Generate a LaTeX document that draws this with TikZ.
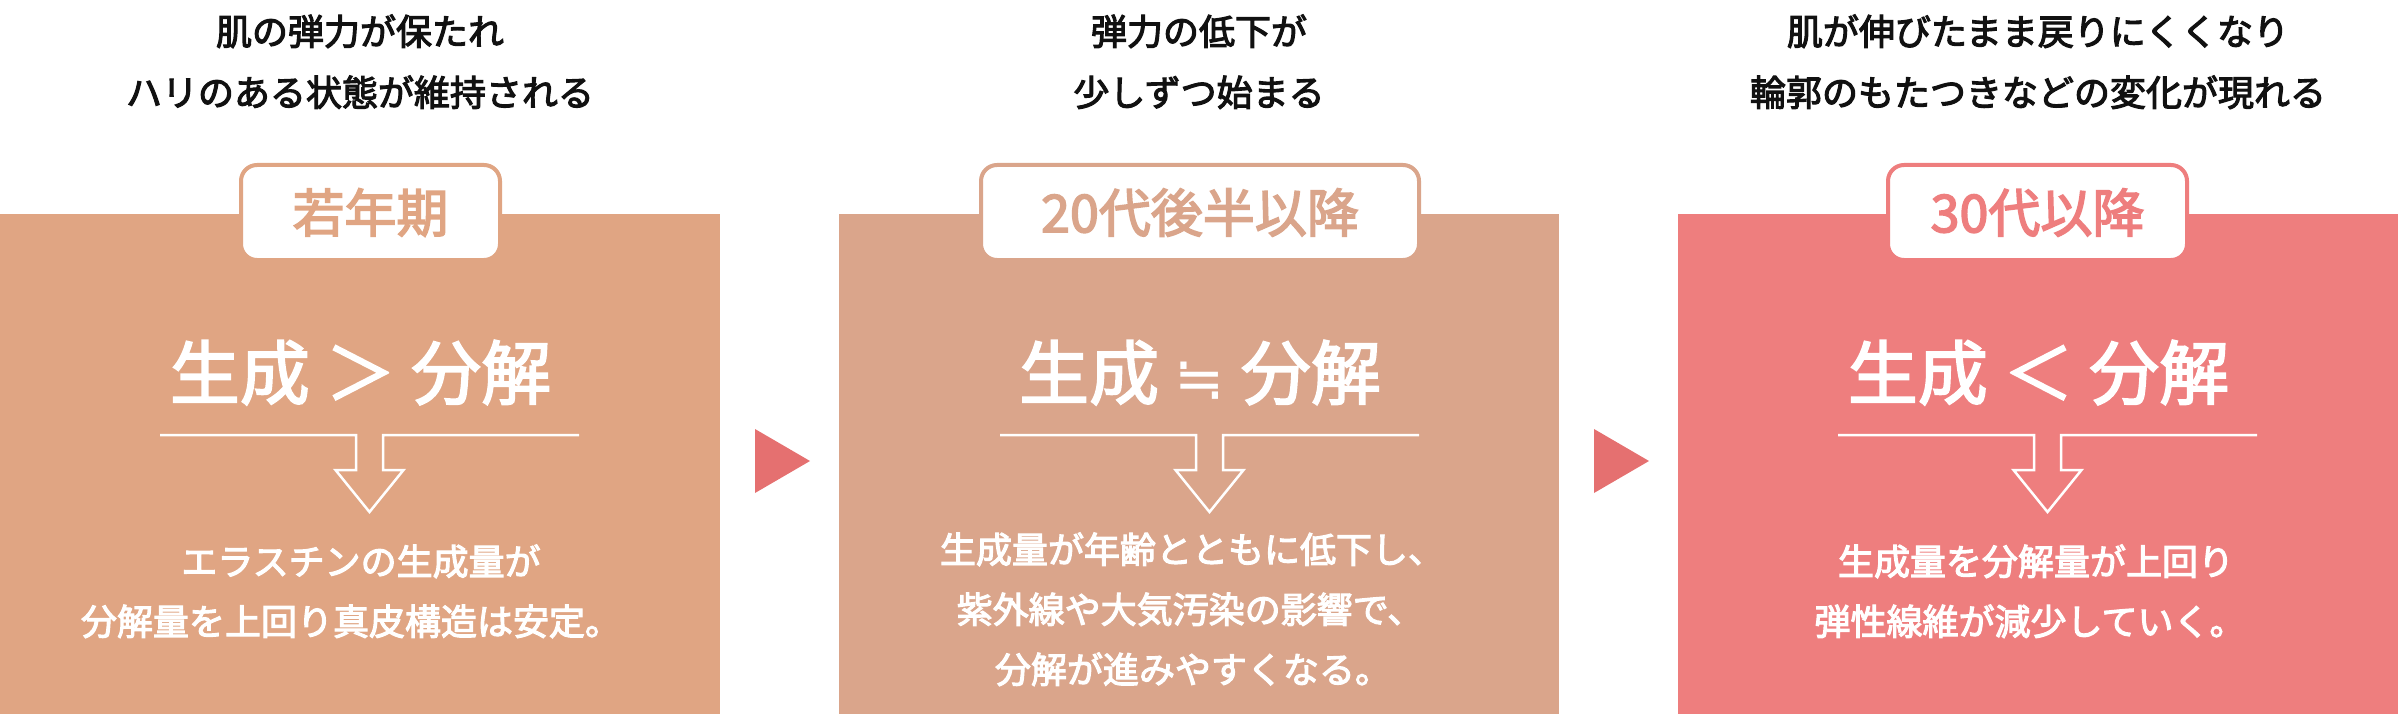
\documentclass[tikz,border=0pt]{standalone}
\usepackage{fontspec}
\setmainfont{Noto Sans CJK JP}
\newfontfamily\medfont{Noto Sans CJK JP}[RawFeature={embolden=3}]
\newfontfamily\medbigfont{Noto Sans CJK JP}[RawFeature={embolden=2.5}]
\newfontfamily\symfont{DejaVu Sans}
\definecolor{pA}{HTML}{E0A583}
\definecolor{pB}{HTML}{DAA58B}
\definecolor{pC}{HTML}{EE7E7E}
\definecolor{triC}{HTML}{E57070}
\definecolor{topC}{HTML}{111111}
\tikzset{
  toptext/.style={anchor=base, inner sep=0pt, text=topC, font=\medfont\fontsize{36}{44}\selectfont},
  bodytext/.style={anchor=base, inner sep=0pt, text=white, font=\medfont\fontsize{36}{44}\selectfont},
  bigtext/.style={anchor=base, inner sep=0pt, text=white, font=\medbigfont\fontsize{70}{80}\selectfont},
  labelbox/.style={draw=#1, text=#1, fill=white, line width=4pt, rounded corners=16pt,
     minimum height=95pt, inner sep=0pt, font=\medfont\fontsize{52}{60}\selectfont},
  splitarrow/.pic={
    \draw[white, line width=2.5pt, line join=miter]
      (-209.5,0) -- (-13.5,0) -- (-13.5,35) -- (-34,35) -- (0,77) -- (34,35)
      -- (13.5,35) -- (13.5,0) -- (209.5,0);
  },
  nexttri/.style={fill=triC, draw=none}
}
\begin{document}
\begin{tikzpicture}[x=1pt,y=-1pt]
\useasboundingbox (0,0) rectangle (2398,714);
% panels
\fill[pA] (0,214) rectangle (720,714);
\fill[pB] (839,214) rectangle (1559,714);
\fill[pC] (1678,214) rectangle (2398,714);
% triangles
\fill[nexttri] (755,429) -- (810,461) -- (755,493) -- cycle;
\fill[nexttri] (1594,429) -- (1649,461) -- (1594,493) -- cycle;
% top texts
\node[toptext] (a1) at (360,45) {肌の弾力が保たれ};
\node[toptext] (a2) at (360,106) {ハリのある状態が維持される};
\node[toptext] (b1) at (1199,45) {弾力の低下が};
\node[toptext] (b2) at (1199,106) {少しずつ始まる};
\node[toptext] (c1) at (2038,45) {肌が伸びたまま戻りにくくなり};
\node[toptext] (c2) at (2038,106) {輪郭のもたつきなどの変化が現れる};
% labels
\node[labelbox=pA, minimum width=259pt] (la) at (370.5,212.5) {若年期};
\node[labelbox=pB, minimum width=438pt] (lb) at (1200,212.5) {20代後半以降};
\node[labelbox=pC, minimum width=299pt] (lc) at (2037.5,212.5) {30代以降};
% big equations
\node[bigtext] (ea) at (360.5,399) {生成 ＞ 分解};
\node[bigtext] (eb) at (1200,399) {生成 {\symfont\fontsize{60}{70}\selectfont ≒} 分解};
\node[bigtext] (ec) at (2038.5,399) {生成 ＜ 分解};
% arrows
\pic at (369.5,435) {splitarrow};
\pic at (1209.5,435) {splitarrow};
\pic at (2047.5,435) {splitarrow};
% body texts
\node[bodytext] (ba1) at (361,575) {エラスチンの生成量が};
\node[bodytext] (ba2) at (351,635) {分解量を上回り真皮構造は安定。};
\node[bodytext] (bb1) at (1192,563) {生成量が年齢とともに低下し、};
\node[bodytext] (bb2) at (1190,623) {紫外線や大気汚染の影響で、};
\node[bodytext] (bb3) at (1193,683) {分解が進みやすくなる。};
\node[bodytext] (bc1) at (2036,575) {生成量を分解量が上回り};
\node[bodytext] (bc2) at (2030,635) {弾性線維が減少していく。};
\end{tikzpicture}
\end{document}
